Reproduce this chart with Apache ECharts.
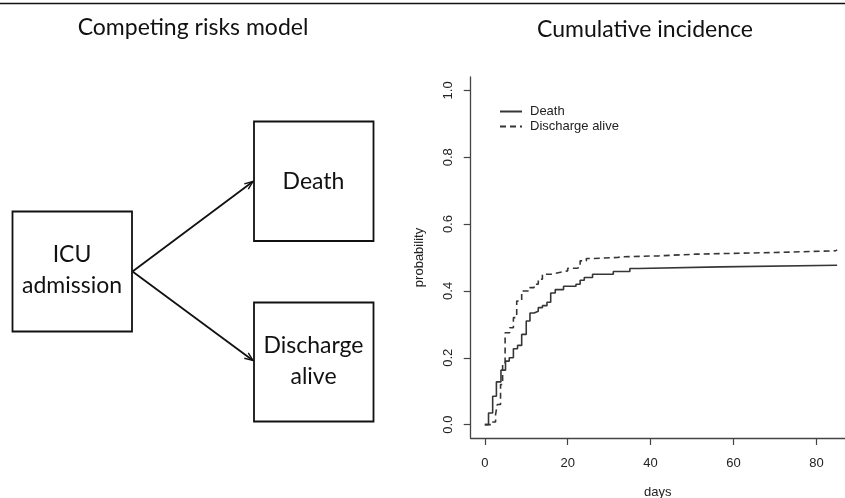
<!DOCTYPE html>
<html>
<head>
<meta charset="utf-8">
<script src="https://cdn.jsdelivr.net/npm/echarts@6/dist/echarts.min.js"></script>
<style>html,body{margin:0;padding:0;background:#fff}#c{width:845px;height:498px}</style>
</head>
<body>
<div id="c"></div>
<script>
// Cumulative incidence step functions: [day, probability]
var deathCIF = [[0,0],[0.9,0.035],[1.9,0.085],[2.8,0.128],[3.9,0.163],[5.0,0.19],[5.9,0.20],[6.9,0.227],[7.9,0.237],[8.9,0.27],[10,0.31],[10.9,0.334],[11.9,0.339],[12.9,0.35],[13.9,0.356],[15,0.366],[15.9,0.394],[17,0.404],[19,0.414],[22,0.42],[23,0.432],[24,0.44],[26,0.45],[31,0.458],[35,0.467],[37,0.472],[56.8,0.477],[85,0.477]];
var dischargeCIF = [[0,0],[1.9,0.008],[2.6,0.03],[3.0,0.06],[3.8,0.12],[4.3,0.18],[4.9,0.275],[6,0.29],[6.9,0.32],[7.7,0.37],[8.9,0.40],[10.9,0.41],[11.9,0.42],[12.9,0.435],[13.9,0.45],[16,0.455],[18,0.46],[20,0.468],[22.2,0.47],[23,0.49],[24.5,0.497],[26,0.50],[32,0.502],[33,0.505],[42,0.51],[51,0.515],[70,0.52],[84.6,0.523],[85,0.523]];
var seriesNames = ['Death', 'Discharge alive'];
var xTicks = [0, 20, 40, 60, 80];
var yTicks = [0, 0.2, 0.4, 0.6, 0.8, 1.0];
var diagramStates = ['ICU\nadmission', 'Death', 'Discharge\nalive'];
var titles = ['Competing risks model', 'Cumulative incidence'];

var chart = echarts.init(document.getElementById('c'), null, {renderer: 'canvas'});
var axisColor = '#444';
var txt = '#222';
var lineColor = '#363636';
var diagFont = 'Lato, "Open Sans", sans-serif';

function box(x, y, w, h) {
  return {type: 'rect', shape: {x: x, y: y, width: w, height: h}, style: {fill: null, stroke: '#111', lineWidth: 1.8}};
}
function arrow(x1, y1, x2, y2) {
  var ang = Math.atan2(y2 - y1, x2 - x1), L = 9, s = 0.38;
  var a1 = ang + Math.PI - s, a2 = ang + Math.PI + s;
  return [
    {type: 'line', shape: {x1: x1, y1: y1, x2: x2, y2: y2}, style: {stroke: '#111', lineWidth: 1.8}},
    {type: 'polyline', shape: {points: [[x2 + L * Math.cos(a1), y2 + L * Math.sin(a1)], [x2, y2], [x2 + L * Math.cos(a2), y2 + L * Math.sin(a2)]]}, style: {fill: null, stroke: '#111', lineWidth: 1.4}}
  ];
}
function label(x, y, t) {
  return {type: 'text', x: x, y: y, style: {text: t, fill: '#111', font: '23px ' + diagFont, align: 'center', verticalAlign: 'middle', lineHeight: 31}};
}

var graphics = [
  {type: 'line', shape: {x1: 0, y1: 3.5, x2: 845, y2: 3.5}, style: {stroke: '#111', lineWidth: 1.6}},
  {type: 'text', x: 193, y: 28, style: {text: titles[0], fill: '#111', font: '23px ' + diagFont, align: 'center', verticalAlign: 'middle'}},
  {type: 'text', x: 645, y: 30, style: {text: titles[1], fill: '#111', font: '23px ' + diagFont, align: 'center', verticalAlign: 'middle'}},
  box(12.5, 211.5, 119.5, 120),
  box(254, 121.5, 119.5, 119.5),
  box(254, 302.5, 119.5, 119),
  label(72, 270, diagramStates[0]),
  label(313.5, 182, diagramStates[1]),
  label(313.5, 361, diagramStates[2])
].concat(arrow(132.5, 271.5, 253, 181.5)).concat(arrow(132.5, 271.5, 253, 360.5));

var option = {
  backgroundColor: '#fff',
  animation: false,
  textStyle: {fontFamily: '"Liberation Sans", Arial, sans-serif'},
  graphic: graphics,
  legend: {
    left: 494, top: 100, orient: 'vertical', itemGap: 2,
    itemWidth: 22, itemHeight: 12,
    itemStyle: {opacity: 0},
    textStyle: {fontSize: 13, color: txt, padding: [0, 0, 0, 3]},
    data: seriesNames
  },
  grid: {left: 470.7, top: 77, right: 0, bottom: 60, containLabel: false, outerBoundsMode: 'none'},
  xAxis: {
    type: 'value', min: -3.4, max: 86.9,
    name: 'days', nameLocation: 'middle', nameGap: 48,
    nameTextStyle: {fontSize: 13, color: txt},
    axisLine: {show: true, onZero: false, lineStyle: {color: axisColor, width: 1.3}},
    axisTick: {show: true, length: 7, customValues: xTicks, lineStyle: {color: axisColor, width: 1.2}},
    axisLabel: {show: true, customValues: xTicks, margin: 19, fontSize: 13, color: txt, showMinLabel: true, showMaxLabel: true},
    splitLine: {show: false}
  },
  yAxis: {
    type: 'value', min: -0.04, max: 1.04,
    name: 'probability', nameLocation: 'middle', nameGap: 45, nameRotate: 90,
    nameTextStyle: {fontSize: 13, color: txt},
    axisLine: {show: true, onZero: false, lineStyle: {color: axisColor, width: 1.3}},
    axisTick: {show: true, length: 7, customValues: yTicks, lineStyle: {color: axisColor, width: 1.2}},
    axisLabel: {show: true, customValues: yTicks, margin: 16, rotate: 90, fontSize: 13, color: txt,
      formatter: function (v) { return v.toFixed(1); }},
    splitLine: {show: false}
  },
  series: [
    {name: seriesNames[0], type: 'line', step: 'end', data: deathCIF, showSymbol: false, symbol: 'none',
      lineStyle: {color: lineColor, width: 1.6, type: 'solid'}, itemStyle: {color: lineColor}},
    {name: seriesNames[1], type: 'line', step: 'end', data: dischargeCIF, showSymbol: false, symbol: 'none',
      lineStyle: {color: lineColor, width: 1.6, type: [6, 4]}, itemStyle: {color: lineColor}}
  ]
};
chart.setOption(option);
</script>
</body>
</html>
